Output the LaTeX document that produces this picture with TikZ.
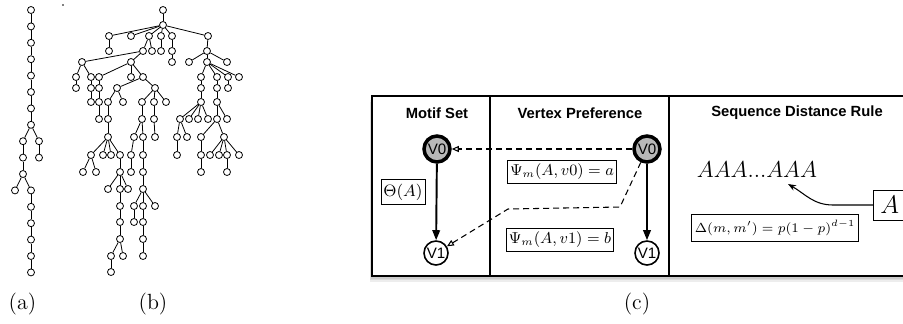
\RequirePackage{fix-cm}
\documentclass[tikz,border=0pt]{standalone}
\usepackage{fontspec}
\newfontfamily\hv{Liberation Sans}
\usetikzlibrary{arrows.meta}

\begin{document}
\begin{tikzpicture}[x=0.2mm, y=-0.2mm, line width=0.45pt,
		vtx/.style={circle, draw, fill=white, inner sep=0pt, minimum size=1.4mm},
		head/.style={font=\fontsize{8.4}{10}\selectfont\hv\bfseries},
		big/.style={circle, draw, line width=2pt, fill=black!28, inner sep=0pt, minimum size=5.2mm, font=\fontsize{8.6}{10}\selectfont\hv},
		small/.style={circle, draw, line width=0.9pt, fill=white, inner sep=0pt, minimum size=4.8mm, font=\fontsize{8.6}{10}\selectfont\hv},
		lab/.style={draw, line width=0.5pt, inner xsep=1.4pt, inner ysep=2.2pt, font=\fontsize{9.4}{11}\selectfont},
		sublabel/.style={font=\fontsize{12.5}{15}\selectfont},
		solid arrow/.style={line width=1.1pt, -{Triangle[length=2mm, width=1.5mm]}},
		dash arrow/.style={line width=0.6pt, dash pattern=on 1.2mm off 0.8mm, -{Triangle[open, length=1.4mm, width=1.2mm]}}]
		\useasboundingbox (0,0) rectangle (903,323);
		\clip (0,0) rectangle (903,323);
		% (a) a long chain
		\node[vtx] (a0) at (31,10) {};
		\foreach \n/\x/\y/\p in {a1/31/26.4/a0, a2/31/42.8/a1, a3/31/59.2/a2, a4/31/75.6/a3,
			a5/31/92/a4, a6/31/108.4/a5, a7/31/124.8/a6, a8/23/141.2/a7, c8/39/141.2/a7,
			a9/23/157.6/a8, c9/39/157.6/c8, a10/23/174/a9, d11/15/190.4/a10, a11/31/190.4/a10,
			a12/31/206.8/a11, a13/31/223.2/a12, a14/31/239.6/a13, a15/31/256/a14, a16/31/272.4/a15}
		{\node[vtx] (\n) at (\x,\y) {}; \draw (\p) -- (\n);}
		\node[sublabel] (la) at (22.5,304) {(a)};
		% (b) a bushy tree
		\fill (63,5) circle (0.8);
		\node[vtx] (r) at (163,10) {};
		\foreach \n/\x/\y/\p in {b1/163/25/r,
			p1/109/36/b1, p2/131/36/b1, p3/149/36/b1, p4/161/36/b1, p5/172/36/b1, p6/208/36/b1,
			q1/109/51/p1, q2/143/51/p3, q3/152/51/p3, q4/161/51/p4, q5/172/51/p5, q6/207/51/p6,
			s1/82/62/q2, s2/131/62/q2, s3/172/62/q5, s4/189/62/q6, s5/207/62/q6, s6/227/62/q6,
			t1/76/77/s1, t2/91/77/s1, t3/99/77/s2, t4/131/77/s2, t5/143/77/s2,
			t6/201/77/s5, t7/217/77/s5, t8/228/77/s5, t9/239/77/s5,
			u1/76/88/t1, u2/91/88/t2, u3/99/88/t3, u4/117/88/t5, u5/155/88/t5,
			u6/201/88/t6, u7/217/88/t7, u8/228/88/t8,
			v1/91/102/u2, v2/99/102/u3, v3/108/102/u4, v4/123/102/u4, v5/142/102/u5,
			v6/154/102/u5, v7/166/102/u5, v8/201/102/u6, v9/217/102/u7,
			w1/99/119/v2, w2/108/119/v3, w3/142/119/v5, w4/154/119/v6, w5/180/119/v8,
			w6/189/119/v8, w7/198/119/v8, w8/208/119/v8, w9/217/119/v9, w10/227/119/v9,
			x1/108/137/w2, x2/134/137/w3, x3/143/137/w3, x4/155/137/w4,
			x5/177/137/w5, x6/187/137/w5, x7/201/137/w9, x8/224/137/w9,
			y1/91/155/x1, y2/103/155/x1, y3/111/155/x1, y4/120/155/x1, y5/131/155/x2,
			y6/143/155/x3, y7/177/155/x5, y8/201/155/x7, y9/210/155/x8, y10/219/155/x8,
			y11/227/155/x8, y12/239/155/x8,
			z1/83/172/y1, z2/96/172/y1, z3/120/172/y4, z4/131/172/y5, z5/143/172/y6,
			z6/201/172/y8, z7/227/172/y11,
			m1/108/189/z3, m2/120/189/z3, m3/128/189/z3, m4/143/189/z5,
			n1/120/206/m2, n2/134/206/m4, n3/143/206/m4, n4/155/206/m4,
			o1/120/222/n1, o2/134/222/n2, o3/143/222/n3,
			g1/120/239/o1, g2/143/239/o3,
			h1/111/256/g1, h2/123/256/g1, h3/143/256/g2,
			k1/111/272/h1}
		{\node[vtx] (\n) at (\x,\y) {}; \draw (\p) -- (\n);}
		\node[sublabel] (lb) at (153,304) {(b)};
		% (c) the three panels
		\foreach \s in {1,2,3,4}
			\fill[black, opacity=0.07] (372-\s*0.6,96+\s*1.4) rectangle (930,276+\s*1.4);
		\draw[line width=1.3pt, fill=white] (372,96) rectangle (930,276);
		\draw[line width=0.6pt] (490,96) -- (490,276);
		\draw[line width=0.6pt] (669,96) -- (669,276);
		\node[head] (h1) at (437,113) {Motif Set};
		\node[head] (h2) at (580,113) {Vertex Preference};
		\node[head] (h3) at (797,113) {Sequence Distance Rule};
		% motif set
		\node[big] (ms0) at (437,149) {V0};
		\node[small] (ms1) at (436,253) {V1};
		\draw[solid arrow] (ms0) -- (ms1);
		\node[lab] (th) at (403,192) {$\Theta(A)$};
		% vertex preference
		\node[big] (vp0) at (647,149) {V0};
		\node[small] (vp1) at (647,253) {V1};
		\draw[solid arrow] (vp0) -- (vp1);
		\node[lab, font=\fontsize{9}{11}\selectfont] (ps0) at (562,172) {$\Psi_m(A,v0)=a$};
		\node[lab, font=\fontsize{9}{11}\selectfont] (ps1) at (560,240) {$\Psi_m(A,v1)=b$};
		\coordinate (k1) at (620,207);
		\coordinate (k2) at (508,209);
		\draw[dash arrow] (vp0) -- (ms0);
		\draw[dash arrow] (vp0) -- (k1) -- (k2) -- (ms1);
		% sequence distance rule
		\node[font=\fontsize{13.1}{15}\selectfont] (seq) at (757,170) {$AAA...AAA$};
		\node[lab, inner xsep=2pt, inner ysep=3.4pt, font=\fontsize{7.5}{9}\selectfont] (dl) at (775,228) {$\Delta(m,m')=p(1-p)^{d-1}$};
		\node[draw, line width=0.5pt, anchor=west, inner xsep=4pt, minimum height=6mm, font=\fontsize{14.5}{17}\selectfont] (ab) at (873,205) {$A$};
		\coordinate (tip) at (788,184);
		\draw[line width=0.6pt, -{Stealth[length=1.6mm, width=1.2mm]}] (ab.west) -- (833,205) to[out=180, in=-30] (tip);
		\node[sublabel] (lc) at (637,304) {(c)};
\end{tikzpicture}
\end{document}
